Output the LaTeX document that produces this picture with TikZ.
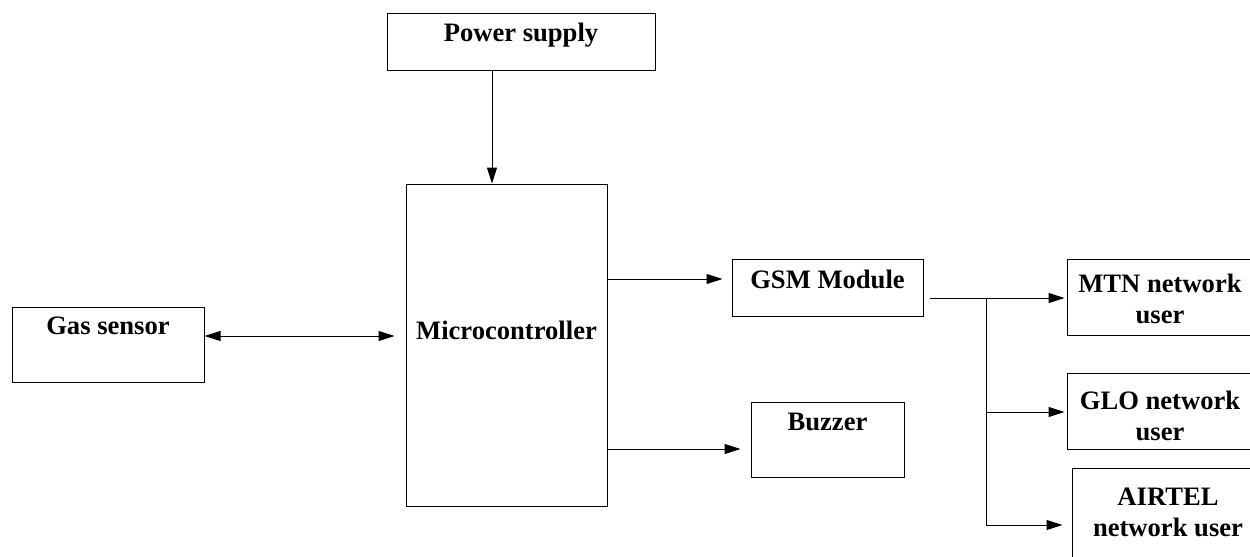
\documentclass[tikz,border=0pt]{standalone}
\usepackage{fontspec}
\setmainfont{Liberation Serif}
\usetikzlibrary{arrows.meta,positioning}

\begin{document}
\begin{tikzpicture}[
    x=0.5pt, y=-0.5pt,
    block/.style={draw, rectangle, line width=0.5pt, inner sep=0pt},
    caption/.style={font=\fontsize{13.3}{15.5}\selectfont\bfseries, align=center, inner sep=0pt},
    link/.style={line width=0.5pt, -{Triangle[length=8pt,width=5pt]}},
    node distance=5pt
]
    % Picture frame
    \clip (0,0) rectangle (1250,557);

    % Blocks
    \node[block, minimum width=134pt, minimum height=28.5pt] (power) at (521,41.5) {};
    \node[block, minimum width=100.5pt, minimum height=161pt] (micro) at (506.5,345) {};
    \node[block, minimum width=96pt, minimum height=37.5pt] (gas) at (108,344.5) {};
    \node[block, minimum width=95.5pt, minimum height=28.5pt] (gsm) at (827.5,287.5) {};
    \node[block, minimum width=76.5pt, minimum height=37.5pt] (buzzer) at (827.5,439.5) {};
    \node[block, minimum width=93pt, minimum height=38pt] (mtn) at (1160,297) {};
    \node[block, minimum width=93pt, minimum height=38pt] (glo) at (1160,411) {};
    \node[block, minimum width=96pt, minimum height=51pt] (airtel) at (1168,519) {};

    % Block texts
    \node[caption, below=5pt of power.north] (powertxt) {Power supply};
    \node[caption] (microtxt) at ([yshift=7.5pt]micro.center) {Microcontroller};
    \node[caption, below=5pt of gas.north] (gastxt) {Gas sensor};
    \node[caption, below=5.5pt of gsm.north] (gsmtxt) {GSM Module};
    \node[caption, below=5.5pt of buzzer.north] (buzzertxt) {Buzzer};
    \node[caption, below=7.5pt of mtn.north] (mtntxt) {MTN network\\user};
    \node[caption, below=9pt of glo.north] (glotxt) {GLO network\\user};
    \node[caption, below=10pt of airtel.north] (airteltxt) {AIRTEL\\network user};

    % Power to microcontroller
    \draw[link] ([xshift=-14.5pt]power.south) -- ([xshift=-14.5pt]power.south |- micro.north);

    % Sensor link
    \draw[link, {Triangle[length=8pt,width=5pt]}-{Triangle[length=8pt,width=5pt]}]
        ([yshift=4.25pt]gas.east) -- ([yshift=4.25pt,xshift=-5.5pt]gas.east -| micro.west);

    % Outputs of the microcontroller
    \draw[link] (micro.east |- 0,279) -- ([xshift=-4.5pt]gsm.west |- 0,279);
    \draw[link] (micro.east |- 0,449) -- ([xshift=-5pt]buzzer.west |- 0,449);

    % GSM branches
    \coordinate (split) at (986,298);
    \draw[line width=0.5pt] ([xshift=3pt]gsm.east |- split) -- (split) -- (split |- 0,525);
    \draw[link] (split) -- ([xshift=-1pt]mtn.west |- split);
    \draw[link] (split |- 0,412) -- ([xshift=-1pt]glo.west |- 0,412);
    \draw[link] (split |- 0,525) -- ([xshift=-4.5pt]airtel.west |- 0,525);

\end{tikzpicture}
\end{document}
